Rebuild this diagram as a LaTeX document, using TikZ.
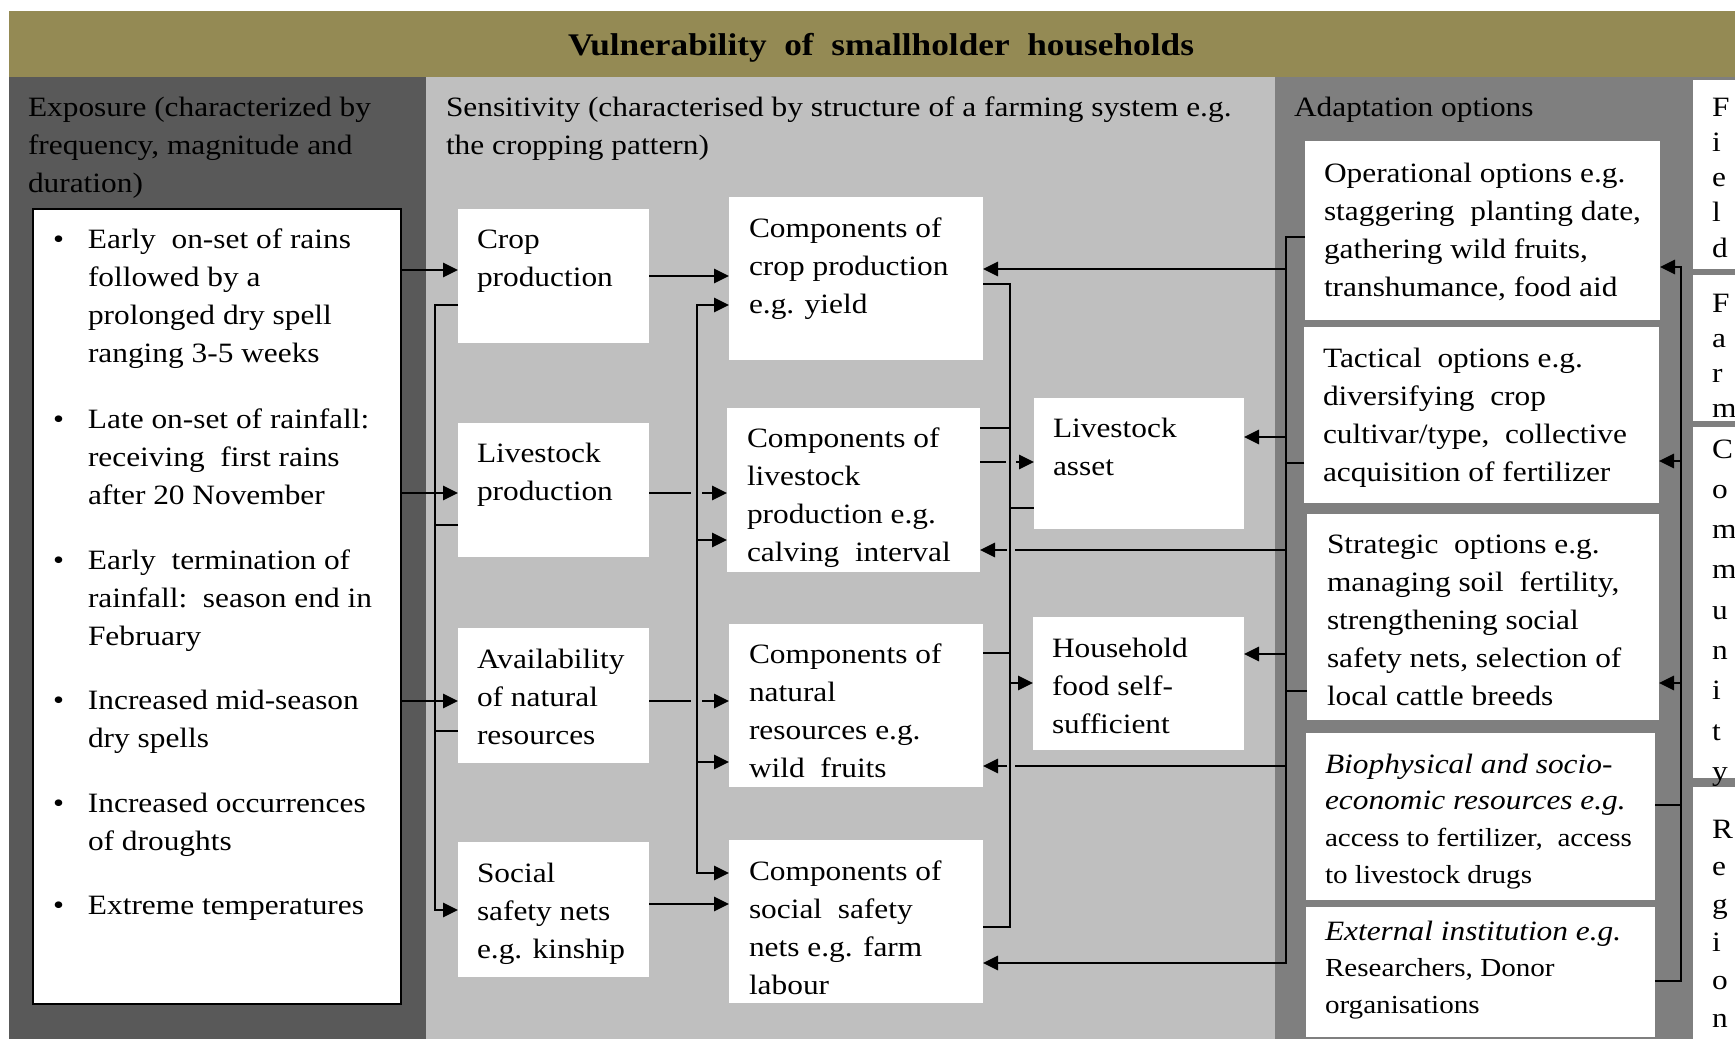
\documentclass[tikz,border=0pt]{standalone}
\usepackage{fontspec}
\setmainfont{Liberation Serif}[FakeStretch=1.12]
\usetikzlibrary{arrows.meta}
\definecolor{bandolive}{HTML}{948A54}
\definecolor{expgrey}{HTML}{595959}
\definecolor{sensgrey}{HTML}{BFBFBF}
\definecolor{adaptgrey}{HTML}{7F7F7F}
\newcommand\mylines[2][38.3pt]{\vtop{\baselineskip=#1\relax\lineskiplimit=-\maxdimen\lineskip=0pt\let\\\cr\halign{##\hfil\cr#2\crcr}}}
\newcommand\bul{\llap{\textbullet\hskip 24pt}}
\tikzset{
  wbox/.style={fill=white, draw=none, inner sep=0pt, outer sep=0pt, anchor=north west},
  txt/.style={anchor=base west, inner sep=0pt, outer sep=0pt, font=\fontsize{28}{38.3}\selectfont},
  ln/.style={draw=black, line width=2.9pt},
  arr/.style={ln, -{Triangle[length=15pt,width=14pt]}},
  darr/.style={ln, {Triangle[length=15pt,width=14pt]}-{Triangle[length=15pt,width=14pt]}},
}
\begin{document}
\begin{tikzpicture}[x=1pt,y=-1pt]
\useasboundingbox (0,0) rectangle (1735,1039);
% backgrounds
\fill[white] (0,0) rectangle (1735,1039);
\fill[bandolive] (9,11) rectangle (1735,77);
\fill[expgrey] (9,77) rectangle (426,1039);
\fill[sensgrey] (426,77) rectangle (1275,1039);
\fill[adaptgrey] (1275,77) rectangle (1735,1039);
% title
\node[anchor=base, inner sep=0pt, font=\fontsize{31.5}{36}\selectfont\bfseries] (ttl) at (881,55) {Vulnerability\ \ of\ \ smallholder\ \ households};
% headers
\node[txt] (hexp) at (28,116) {\mylines{Exposure (characterized by\\frequency, magnitude and\\duration)}};
\node[txt] (hsen) at (446,116) {\mylines{Sensitivity (characterised by structure of a farming system e.g.\\the cropping pattern)}};
\node[txt] (hada) at (1294,116) {\mylines{Adaptation options}};
% exposure box
\node[wbox, draw=black, line width=2.9pt, minimum width=368pt, minimum height=795pt] (ex) at (33,209) {};
\node[txt] (b1) at (88,248) {\mylines{\bul Early\ \ on-set of rains\\followed by a\\prolonged dry spell\\ranging 3-5 weeks}};
\node[txt] (b2) at (88,428) {\mylines{\bul Late on-set of rainfall:\\receiving\ \ first rains\\after 20 November}};
\node[txt] (b3) at (88,569) {\mylines{\bul Early\ \ termination of\\rainfall:\ \ season end in\\February}};
\node[txt] (b4) at (88,709) {\mylines{\bul Increased mid-season\\dry spells}};
\node[txt] (b5) at (88,812) {\mylines{\bul Increased occurrences\\of droughts}};
\node[txt] (b6) at (88,914) {\mylines{\bul Extreme temperatures}};
% sensitivity boxes
\node[wbox, minimum width=191pt, minimum height=134pt] (cp) at (458,209) {};
\node[wbox, minimum width=191pt, minimum height=134pt] (lp) at (458,423) {};
\node[wbox, minimum width=191pt, minimum height=135pt] (ar) at (458,628) {};
\node[wbox, minimum width=191pt, minimum height=135pt] (sn) at (458,842) {};
\node[wbox, minimum width=254pt, minimum height=163pt] (cc) at (729,197) {};
\node[wbox, minimum width=253pt, minimum height=164pt] (cl) at (727,408) {};
\node[wbox, minimum width=254pt, minimum height=163pt] (cn) at (729,624) {};
\node[wbox, minimum width=254pt, minimum height=163pt] (cs) at (729,840) {};
\node[wbox, minimum width=210pt, minimum height=131pt] (la) at (1034,398) {};
\node[wbox, minimum width=211pt, minimum height=133pt] (hf) at (1033,617) {};
\node[txt] (tcp) at (477,248) {\mylines{Crop\\production}};
\node[txt] (tlp) at (477,462) {\mylines{Livestock\\production}};
\node[txt] (tar) at (477,668) {\mylines{Availability\\of natural\\resources}};
\node[txt] (tsn) at (477,882) {\mylines{Social\\safety nets\\e.g. kinship}};
\node[txt] (tcc) at (749,237) {\mylines{Components of\\crop production\\e.g. yield}};
\node[txt] (tcl) at (747,447) {\mylines{Components of\\livestock\\production e.g.\\calving\ \ interval}};
\node[txt] (tcn) at (749,663) {\mylines{Components of\\natural\\resources e.g.\\wild\ \ fruits}};
\node[txt] (tcs) at (749,880) {\mylines{Components of\\social\ \ safety\\nets e.g. farm\\labour}};
\node[txt] (tla) at (1053,437) {\mylines{Livestock\\asset}};
\node[txt] (thf) at (1052,657) {\mylines{Household\\food self-\\sufficient}};
% adaptation boxes
\node[wbox, minimum width=355pt, minimum height=179pt] (op) at (1305,141) {};
\node[wbox, minimum width=355pt, minimum height=176pt] (ta) at (1304,327) {};
\node[wbox, minimum width=352pt, minimum height=206pt] (st) at (1307,514) {};
\node[wbox, minimum width=349pt, minimum height=167pt] (bio) at (1306,733) {};
\node[wbox, minimum width=349pt, minimum height=130pt] (ext) at (1306,907) {};
\node[txt] (top) at (1324,182) {\mylines{Operational options e.g.\\staggering\ \ planting date,\\gathering wild fruits,\\transhumance, food aid}};
\node[txt] (tta) at (1323,367) {\mylines{Tactical\ \ options e.g.\\diversifying\ \ crop\\cultivar/type,\ \ collective\\acquisition of fertilizer}};
\node[txt] (tst) at (1327,553) {\mylines[38pt]{Strategic\ \ options e.g.\\managing soil\ \ fertility,\\strengthening social\\safety nets, selection of\\local cattle breeds}};
\node[txt] (tbio) at (1325,773) {\mylines[36.7pt]{\itshape Biophysical and socio-\\\itshape economic resources e.g.\\\fontsize{26}{36.7}\selectfont access to fertilizer,\ \ access\\\fontsize{26}{36.7}\selectfont to livestock drugs}};
\node[txt] (text) at (1325,940) {\mylines[36.7pt]{\itshape External institution e.g.\\\fontsize{26}{36.7}\selectfont Researchers, Donor\\\fontsize{26}{36.7}\selectfont organisations}};
% scale column
\node[wbox, minimum width=42pt, minimum height=189pt] (fld) at (1693,80) {};
\node[wbox, minimum width=42pt, minimum height=146pt] (frm) at (1693,275) {};
\node[wbox, minimum width=42pt, minimum height=351pt] (com) at (1693,427) {};
\node[wbox, minimum width=42pt, minimum height=252pt] (reg) at (1693,787) {};
\node[txt] (tfld) at (1712,116) {\mylines[35.3pt]{F\\i\\e\\l\\d}};
\node[txt] (tfrm) at (1712,312) {\mylines[35.3pt]{F\\a\\r\\m}};
\node[txt] (tcom) at (1712,458) {\mylines[40.3pt]{C\\o\\m\\m\\u\\n\\i\\t\\y}};
\node[txt] (treg) at (1712,838) {\mylines[37.8pt]{R\\e\\g\\i\\o\\n}};
% trunk coordinates
\coordinate (L1) at (435,305); \coordinate (L2) at (435,910);
\coordinate (M1) at (697,305); \coordinate (M2) at (697,873);
\coordinate (R1) at (1010,284); \coordinate (R2) at (1010,927);
\coordinate (A1) at (1286,237); \coordinate (A2) at (1286,963);
\coordinate (Q1) at (1681,267); \coordinate (Q2) at (1681,981);
% exposure -> sensitivity
\draw[arr] (ex.east |- 0,270) -- (cp.west |- 0,270);
\draw[arr] (ex.east |- 0,493) -- (lp.west |- 0,493);
\draw[arr] (ex.east |- 0,701) -- (ar.west |- 0,701);
\draw[arr] (cp.west |- L1) -- (L1) -- (L2) -- (sn.west |- L2);
\draw[ln] (lp.west |- 0,525) -- (L1 |- 0,525);
\draw[ln] (ar.west |- 0,731) -- (L1 |- 0,731);
% sensitivity -> components
\draw[arr] (cp.east |- 0,276) -- (cc.west |- 0,276);
\draw[ln] (lp.east |- 0,493) -- ([xshift=-6pt]M1 |- 0,493);
\draw[arr] ([xshift=5pt]M1 |- 0,493) -- (cl.west |- 0,493);
\draw[ln] (ar.east |- 0,701) -- ([xshift=-6pt]M1 |- 0,701);
\draw[arr] ([xshift=5pt]M1 |- 0,701) -- (cn.west |- 0,701);
\draw[arr] (sn.east |- 0,904) -- (cs.west |- 0,904);
\draw[darr] (cc.west |- M1) -- (M1) -- (M2) -- (cs.west |- M2);
\draw[arr] (M1 |- 0,540) -- (cl.west |- 0,540);
\draw[arr] (M1 |- 0,762) -- (cn.west |- 0,762);
% components -> outcomes
\draw[ln] (cc.east |- R1) -- (R1) -- (R2) -- (cs.east |- R2);
\draw[ln] (cl.east |- 0,428) -- (R1 |- 0,428);
\draw[ln] (cl.east |- 0,462) -- ([xshift=-4pt]R1 |- 0,462);
\draw[arr] ([xshift=6pt]R1 |- 0,462) -- (la.west |- 0,462);
\draw[ln] (R1 |- 0,508) -- (la.west |- 0,508);
\draw[ln] (cn.east |- 0,653) -- (R1 |- 0,653);
\draw[arr] (R1 |- 0,683) -- (hf.west |- 0,683);
% adaptation trunk
\draw[arr] (op.west |- A1) -- (A1) -- (A2) -- (cs.east |- A2);
\draw[arr] (A1 |- 0,269) -- (cc.east |- 0,269);
\draw[arr] (A1 |- 0,437) -- (la.east |- 0,437);
\draw[ln] (ta.west |- 0,463) -- (A1 |- 0,463);
\draw[ln] (A1 |- 0,550) -- ([xshift=5pt]R1 |- 0,550);
\draw[arr] ([xshift=-3pt]R1 |- 0,550) -- (cl.east |- 0,550);
\draw[arr] (A1 |- 0,654) -- (hf.east |- 0,654);
\draw[ln] (st.west |- 0,691) -- (A1 |- 0,691);
\draw[ln] (A1 |- 0,766) -- ([xshift=5pt]R1 |- 0,766);
\draw[arr] ([xshift=-3pt]R1 |- 0,766) -- (cn.east |- 0,766);
% right trunk
\draw[arr] (ext.east |- Q2) -- (Q2) -- (Q1) -- (op.east |- Q1);
\draw[ln] (bio.east |- 0,805) -- (Q1 |- 0,805);
\draw[arr] (Q1 |- 0,461) -- (ta.east |- 0,461);
\draw[arr] (Q1 |- 0,683) -- (st.east |- 0,683);
\end{tikzpicture}
\end{document}
